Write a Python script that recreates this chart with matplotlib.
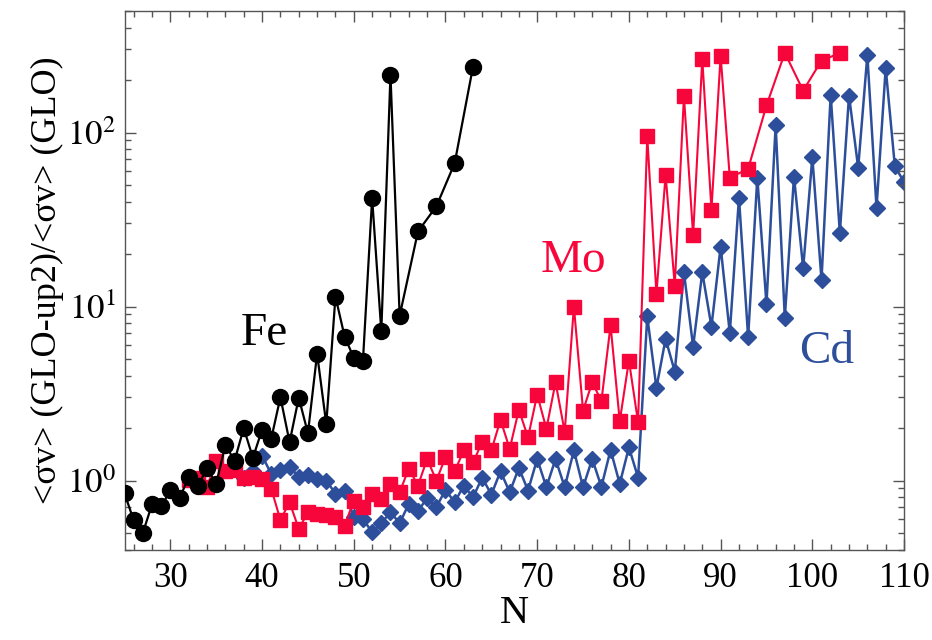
import matplotlib
matplotlib.use("Agg")
import matplotlib.pyplot as plt
from matplotlib.ticker import MultipleLocator, LogLocator, NullFormatter, FixedLocator

plt.rcParams['font.family'] = ['Liberation Serif', 'DejaVu Serif']
plt.rcParams['mathtext.fontset'] = 'stix'

# Fe
fe_N = [25, 26, 27, 28, 29, 30, 31, 32, 33, 34, 35, 36, 37, 38, 39, 40, 41, 42, 43, 44,
        45, 46, 47, 48, 49, 50, 51, 52, 53, 54, 55, 57, 59, 61, 63]
fe_y = [0.845, 0.59, 0.50, 0.73, 0.71, 0.877, 0.79, 1.05, 0.93, 1.18, 0.96, 1.60, 1.30, 2.0,
        1.35, 1.96, 1.74, 3.01, 1.66, 2.99, 1.87, 5.35, 2.11, 11.4, 6.72, 5.07, 4.89, 41.9,
        7.21, 215, 8.84, 27.0, 37.6, 66.6, 239]

# Mo
mo_N = list(range(32, 82)) + [82, 83, 84, 85, 86, 87, 88, 89, 90, 91, 93, 95, 97, 99, 101, 103]
mo_y = [1.01, 1.04, 0.92, 1.30, 1.14, 1.15, 1.03, 1.05, 1.02, 0.896,
        0.594, 0.75, 0.527, 0.658, 0.644, 0.635, 0.615, 0.55, 0.767, 0.70,
        0.84, 0.785, 0.957, 0.857, 1.17, 0.936, 1.33, 1.0, 1.36, 1.13,
        1.49, 1.27, 1.66, 1.49, 2.23, 1.52, 2.55, 1.77, 3.12, 1.98,
        3.67, 1.90, 10.0, 2.52, 3.67, 2.86, 7.8, 2.19, 4.89, 2.16,
        95.2, 11.8, 57.1, 13.2, 162, 25.6, 265, 36.0, 277, 55.0, 61.8, 143, 287, 174, 259, 286]

# Cd
cd_N = list(range(38, 111))
cd_y = [1.04, 1.14, 1.39, 1.09, 1.15, 1.20, 1.05, 1.07, 1.02, 1.0,
        0.84, 0.876, 0.615, 0.60, 0.505, 0.568, 0.658, 0.568, 0.735, 0.666,
        0.795, 0.703, 0.884, 0.75, 0.936, 0.80, 1.04, 0.83, 1.13, 0.857,
        1.18, 0.876, 1.33, 0.915, 1.33, 0.915, 1.49, 0.915, 1.33, 0.92,
        1.50, 0.957, 1.55, 1.04, 8.77, 3.41, 6.52, 4.23, 15.7, 5.89,
        15.7, 7.67, 22.1, 7.03, 42.2, 6.66, 55.0, 10.3, 110, 8.61,
        55.8, 16.6, 72.1, 14.2, 165, 26.4, 163, 62.7, 279, 36.9,
        235, 63.8, 52.0]

labels = ["Fe", "Mo", "Cd"]
label_pos = [(40.2, 5.97), (73.9, 15.8), (101.6, 4.75)]

c_fe = '#000000'
c_mo = '#f7063c'
c_cd = '#2d4f9b'

fig = plt.figure(figsize=(9.32, 6.4), dpi=100)
ax = fig.add_axes([0.1336, 0.141, 0.8364, 0.842])

ax.plot(fe_N, fe_y, '-', color=c_fe, lw=1.6, marker='o', ms=11.5, zorder=3)
ax.plot(mo_N, mo_y, '-', color=c_mo, lw=1.5, marker='s', ms=10.5, zorder=2)
ax.plot(cd_N, cd_y, '-', color=c_cd, lw=1.8, marker='D', ms=8, zorder=1)

ax.set_yscale('log')
ax.set_xlim(25, 110)
ax.set_ylim(0.4, 500)

ax.xaxis.set_major_locator(MultipleLocator(10))
ax.xaxis.set_minor_locator(MultipleLocator(2))
ax.yaxis.set_major_locator(FixedLocator([1, 10, 100]))
ax.yaxis.set_minor_locator(LogLocator(base=10, subs=range(2, 10)))
ax.yaxis.set_minor_formatter(NullFormatter())
ax.set_yticklabels([r'$10^{0}$', r'$10^{1}$', r'$10^{2}$'])

ax.tick_params(which='both', direction='in', top=True, right=True, colors='#555555',
               labelcolor='black', labelsize=25, width=1.0)
ax.tick_params(axis='x', which='major', pad=9)
ax.tick_params(axis='y', which='major', pad=6)
ax.tick_params(which='major', length=8)
ax.tick_params(which='minor', length=4)
for s in ax.spines.values():
    s.set_color('#555555')
    s.set_linewidth(1.0)

ax.set_xlabel('N', fontsize=29, labelpad=0)
ax.set_ylabel('<σv> (GLO-up2)/<σv> (GLO)', fontsize=26, labelpad=2)

for t, (x, y), c in zip(labels, label_pos, [c_fe, c_mo, c_cd]):
    ax.text(x, y, t, color=c, fontsize=34, ha='center', va='baseline')

fig.savefig('out.png', dpi=100)
